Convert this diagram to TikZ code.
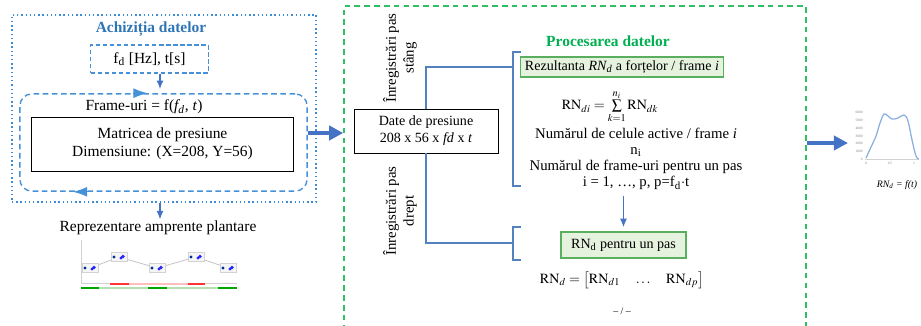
\documentclass[tikz,border=0pt]{standalone}
\usepackage{amsmath}
\usepackage{mathptmx}
\usepackage{fontspec}
\setmainfont{Liberation Serif}
\usepackage{xcolor}
\usetikzlibrary{arrows.meta}

\definecolor{achblue}{RGB}{46,117,182}
\definecolor{dotblue}{RGB}{60,140,215}
\definecolor{dashblue}{RGB}{70,145,215}
\definecolor{arrblue}{RGB}{68,114,196}
\definecolor{connblue}{RGB}{84,130,190}
\definecolor{procgreen}{RGB}{0,176,80}
\definecolor{dashgreen}{RGB}{50,190,100}
\definecolor{boxgreen}{RGB}{90,175,95}
\definecolor{boxfill}{RGB}{228,242,222}
\definecolor{curveblue}{RGB}{140,175,225}

\tikzset{
    lbl/.style={font=\fontsize{11}{13}\selectfont, inner sep=1pt},
    sml/.style={font=\fontsize{10}{12}\selectfont, inner sep=1pt},
    arr/.style={draw=arrblue, line width=0.8pt, -{Latex[length=6pt,width=5pt]}},
    looptip/.style={draw=dashblue, line width=0.8pt, -{Latex[length=10pt,width=7pt]}},
    bigarr/.style={draw=arrblue, line width=2.8pt, -{Triangle[length=10pt,width=10pt]}},
    conn/.style={draw=connblue, line width=0.8pt},
    greenbox/.style={draw=boxgreen, fill=boxfill, line width=1pt, inner xsep=3pt, inner ysep=0pt,
        font=\fontsize{10}{12}\selectfont},
    tick/.style={font=\fontsize{2.5}{3}\selectfont, text=gray, inner sep=0pt},
}

\begin{document}
\begin{tikzpicture}[x=0.025cm, y=-0.025cm]
    \useasboundingbox (0,0) rectangle (921,325);

    % data acquisition
    \node[draw=dotblue, dotted, line width=1pt, minimum width=7.6cm, minimum height=4.68cm] (acq) at (164,108.5) {};
    \node[lbl, font=\fontsize{11}{13}\selectfont\bfseries, text=achblue] (achtitle) at (151,29) {Achiziția datelor};
    \node[lbl, draw=dashblue, dash pattern=on 3pt off 2pt, line width=0.8pt,
        minimum width=2.93cm, minimum height=0.7cm] (fd) at (149.5,59) {f\textsubscript{d} [Hz], t[s]};
    \node[draw=dashblue, dash pattern=on 4pt off 2.5pt, line width=1pt, rounded corners=0.3cm,
        minimum width=7.18cm, minimum height=2.43cm] (loop) at (163.5,142.5) {};
    \node[lbl] (frames) at (144,107) {Frame-uri = f(\textit{f\textsubscript{d}}, \textit{t})};
    \node[lbl, draw, line width=0.6pt, align=center, minimum width=6.53cm, minimum height=1.35cm]
        (matrix) at (162.5,144) {Matricea de presiune\\Dimensiune: (X=208, Y=56)};

    \draw[arr, shorten >=3pt] (fd.south -| 160,0) -- (loop.north -| 160,0);
    \draw[looptip] ([xshift=-0.77cm]loop.north) -- ([xshift=-0.4cm]loop.north);
    \draw[looptip] ([xshift=-1.89cm]loop.south) -- ([xshift=-2.26cm]loop.south);

    \node[lbl] (repr) at (158,228) {Reprezentare amprente plantare};
    \draw[arr] (acq.south -| 160,0) -- (repr.north -| 160,0);

    % footprints
    \draw[gray!35, line width=0.5pt] (81,240) -- (81,283) -- (237,283);
    \draw[gray!45, line width=0.6pt] (90,268) -- (119,257) -- (157,268) -- (196,257) -- (228,268);
    \foreach \x/\y in {90/268, 119/257, 157/268, 196/257, 228/268} {
        \draw[gray!35, fill=gray!8, line width=0.4pt] ({\x-8},{\y-4.5}) rectangle ({\x+8},{\y+4.5});
        \fill[blue!70!cyan!60!black] ({\x-5},\y) circle (1.1pt);
        \fill[blue!85] ({\x+2},{\y+1}) circle (1.2pt) ({\x+4},{\y-0.5}) circle (1.3pt);
    }
    \draw[red!25, line width=2pt] (110,284) -- (205,284);
    \draw[red!80, line width=2pt] (110,284) -- (129,284) (188,284) -- (205,284);
    \draw[green!60!black!30, line width=2pt] (81,288) -- (237,288);
    \draw[green!65!black, line width=2pt] (81,288) -- (99,288) (148,288) -- (167,288) (218,288) -- (237,288);

    % data processing
    \node[draw=dashgreen, dash pattern=on 4pt off 3pt, line width=1pt,
        minimum width=11.55cm, minimum height=8.3cm] (proc) at (575,172) {};
    \draw[bigarr] (loop.east |- 0,133) -- (proc.west |- 0,133);

    \node[sml, draw, line width=0.6pt, align=center, minimum width=3.6cm, minimum height=1.1cm]
        (date) at (426,131) {Date de presiune\\208 x 56 x \textit{fd} x \textit{t}};
    \node[rotate=90, align=center, font=\fontsize{10.5}{12.5}\selectfont] (stang) at (400,58) {Înregistrări pas\\stâng};
    \node[rotate=90, align=center, font=\fontsize{10.5}{12.5}\selectfont] (drept) at (400,211) {Înregistrări pas\\drept};

    \coordinate (stg) at (513,67);
    \coordinate (drp) at (513,243);
    \draw[conn] (date.north) |- (stg);
    \draw[conn] (date.south) |- (drp);
    \draw[conn] (521,52) -- (513,52) -- (513,186) -- (521,186);
    \draw[conn] (521,227) -- (513,227) -- (513,260) -- (521,260);

    \node[lbl, font=\fontsize{11}{13}\selectfont\bfseries, text=procgreen] (proctitle) at (608,41) {Procesarea datelor};
    \node[greenbox, minimum width=5cm, minimum height=0.5cm] (rez) at (622,67)
        {Rezultanta \textit{RN\textsubscript{d}} a forțelor / frame \textit{i}};
    \node[sml] (sum) at (610,107) {$\mathrm{RN}_{di} = \sum\limits_{k=1}^{n_i} \mathrm{RN}_{dk}$};
    \node[align=center, inner sep=0pt, font=\fontsize{10.5}{11.4}\selectfont] (counts) at (636,159)
        {Numărul de celule active / frame \textit{i}\\n\textsubscript{i}\\Numărul de frame-uri pentru un pas\\
         i = 1, …, p, p=f\textsubscript{d}$\cdot$t};
    \node[greenbox, minimum width=3.13cm, minimum height=0.65cm] (rnpas) at (623.5,245)
        {RN\textsubscript{d} pentru un pas};
    \draw[arr, shorten >=3pt, shorten <=4pt] (counts.south -| rnpas.north) -- (rnpas.north);
    \node[sml] (rnvec) at (622,280) {$\mathrm{RN}_d = \left[\mathrm{RN}_{d1} \quad \dots \quad \mathrm{RN}_{dp}\right]$};
    \node[font=\fontsize{7}{8}\selectfont] (sep) at (622,311) {-- / --};

    % resulting curve
    \coordinate (plotin) at (848,143);
    \draw[bigarr] (proc.east |- plotin) -- (plotin);
    \draw[gray!35, line width=0.4pt] (865,159) -- (919,159);
    \foreach \v [count=\i from 0] in {0,1000,2000,3000,4000,5000,6000}
        \node[tick, anchor=east] at (863,{159-\i*7.7}) {\v};
    \node[tick] at (866,163) {0};
    \node[tick] at (890,163) {0.5};
    \node[tick] at (914,163) {1};
    \draw[curveblue, line width=0.9pt] plot[smooth, tension=0.6] coordinates
        {(866,158) (871,147) (876,136) (880,123) (884,114) (888,116) (892,119)
         (898,118) (904,115) (908,121) (912,140) (916,156) (919,159)};
    \node[font=\fontsize{7}{8}\selectfont\itshape] (cap) at (897,185) {RN\textsubscript{d} = f(t)};
\end{tikzpicture}
\end{document}
